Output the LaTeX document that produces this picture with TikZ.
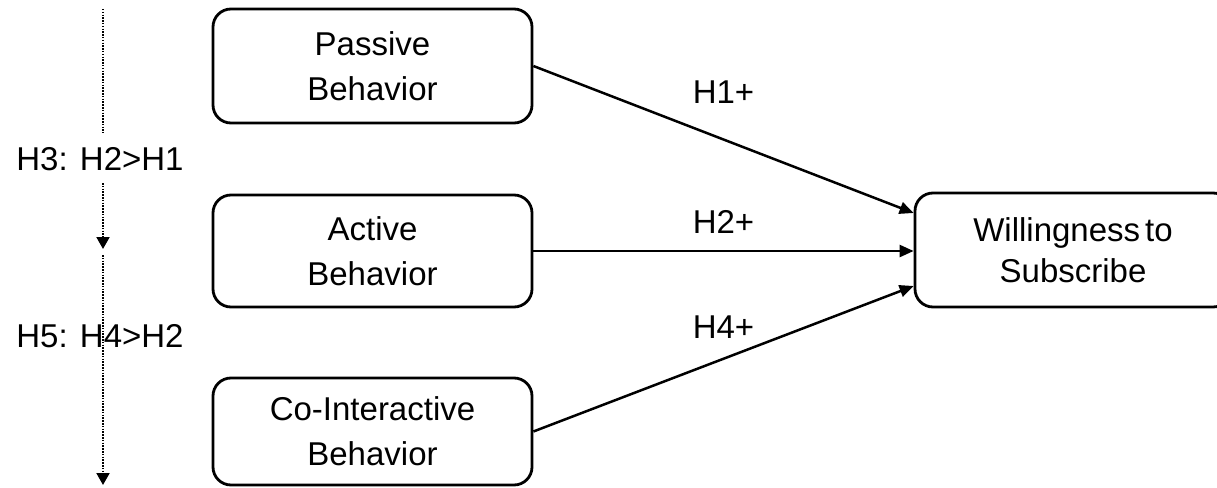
\documentclass[tikz,border=0pt]{standalone}
\usepackage{fontspec}
\setmainfont{Liberation Sans}
\usetikzlibrary{arrows.meta,calc}
\begin{document}
\begin{tikzpicture}[x=1pt,y=-1pt,
  box/.style={draw, line width=2.8pt, rounded corners=18pt, minimum width=319pt,
    align=center, inner sep=0pt, font=\fontsize{33}{45}\selectfont},
  lab/.style={inner sep=0pt, font=\fontsize{33}{40}\selectfont},
  link/.style={line width=2.5pt, -{Triangle[length=14pt,width=12pt]}},
  order/.style={line width=2pt, dash pattern=on 1.5pt off 1.3pt},
  ordertip/.style={order, -{Triangle[length=12pt,width=13pt]}},
]
\useasboundingbox (0,0) rectangle (1217,487);
\clip (0,0) rectangle (1217,487);

% constructs
\node[box, minimum height=114pt] (pb) at (372.5,66) {Passive\\Behavior};
\node[box, minimum height=112pt] (ab) at (372.5,251) {Active\\Behavior};
\node[box, minimum height=107pt] (cb) at (372.5,431.5) {Co-Interactive\\Behavior};
\node[box, minimum width=316pt, minimum height=114pt,
      font=\fontsize{33}{41}\selectfont] (ws) at (1073,250)
      {Willingness\hspace{5pt}to\\Subscribe};

% hypothesised paths
\draw[link] (pb.east) -- ([yshift=37pt]ws.west)
  node[lab, midway, yshift=47pt] {H1+};
\draw[link] (ab.east) -- (ab.east -| ws.west)
  node[lab, midway, yshift=29pt] {H2+};
\draw[link] (cb.east) -- ([yshift=-36pt]ws.west)
  node[lab, midway, yshift=32pt] {H4+};

% ordering of effects
\node[lab] (h3) at (100,159) {H3: H2>H1};
\node[lab] (h5) at (100,336) {H5: H4>H2};
\coordinate (d0) at (103,9);
\coordinate (d1) at (103,133);
\coordinate (d2) at (103,183);
\coordinate (d3) at (103,249);
\coordinate (d4) at (103,255);
\coordinate (d5) at (103,485);
\draw[order] (d0) -- (d1);
\draw[ordertip] (d2) -- (d3);
\draw[ordertip] (d4) -- (d5);
\end{tikzpicture}
\end{document}
